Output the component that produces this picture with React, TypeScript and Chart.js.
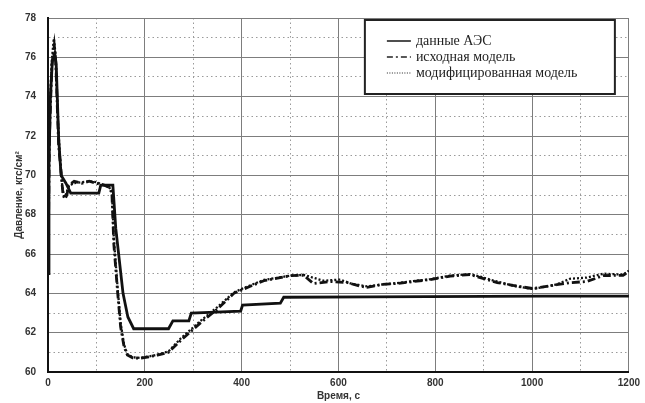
import { useEffect, useRef } from "react";
import { Chart, registerables } from "chart.js";

Chart.register(...registerables);

// ---- data ----
const seriesNames = ["данные АЭС", "исходная модель", "модифицированная модель"];

const aesTime = [0, 2, 5, 9, 14, 17, 22, 27, 37, 47, 105, 109, 134, 140, 155, 165, 177, 249, 258, 291, 296, 398, 402, 480, 487, 666, 1023, 1200];
const aesPressure = [65.0, 70.5, 74.0, 75.8, 76.2, 75.6, 71.9, 70.0, 69.6, 69.1, 69.1, 69.5, 69.5, 67.3, 64.0, 62.8, 62.2, 62.2, 62.6, 62.6, 63.0, 63.1, 63.4, 63.5, 63.8, 63.82, 63.86, 63.86];

const origTime = [0, 3, 8, 13, 16, 22, 27, 31, 35, 39, 43, 54, 70, 85, 100, 116, 126, 132, 136, 144, 150, 157, 164, 175, 190, 210, 226, 249, 274, 315, 350, 384, 412, 446, 501, 528, 548, 583, 618, 639, 659, 690, 721, 755, 790, 831, 872, 893, 928, 961, 1002, 1051, 1078, 1113, 1147, 1188, 1200];
const origPressure = [65.0, 72.0, 75.6, 76.6, 75.8, 71.5, 70.2, 69.0, 68.8, 69.0, 69.5, 69.7, 69.6, 69.7, 69.6, 69.5, 69.4, 69.1, 66.5, 64.0, 62.3, 61.3, 60.86, 60.72, 60.7, 60.78, 60.86, 61.0, 61.6, 62.5, 63.2, 64.0, 64.3, 64.64, 64.9, 64.92, 64.5, 64.6, 64.55, 64.4, 64.3, 64.45, 64.5, 64.6, 64.7, 64.88, 64.95, 64.8, 64.55, 64.4, 64.24, 64.44, 64.54, 64.6, 64.9, 64.92, 65.1];

const modTime = [0, 3, 8, 12, 15, 21, 26, 30, 34, 38, 42, 52, 70, 85, 100, 116, 126, 132, 136, 144, 150, 157, 164, 175, 190, 210, 226, 249, 274, 315, 350, 384, 412, 446, 501, 528, 569, 604, 625, 659, 690, 721, 755, 790, 831, 872, 893, 913, 961, 1002, 1051, 1078, 1113, 1147, 1188, 1200];
const modPressure = [65.0, 73.0, 75.9, 76.95, 76.3, 72.5, 70.4, 69.3, 68.9, 69.1, 69.4, 69.6, 69.65, 69.7, 69.65, 69.5, 69.4, 69.2, 66.8, 64.2, 62.5, 61.4, 60.9, 60.75, 60.72, 60.8, 60.88, 61.05, 61.7, 62.6, 63.3, 64.05, 64.35, 64.68, 64.9, 64.94, 64.64, 64.7, 64.5, 64.35, 64.45, 64.52, 64.62, 64.72, 64.9, 64.98, 64.85, 64.7, 64.38, 64.22, 64.45, 64.74, 64.8, 65.0, 64.95, 65.15];

const xMin = 0, xMax = 1200, xMinorStep = 100, xMajorStep = 200;
const yMin = 60, yMax = 78, yMinorStep = 1, yMajorStep = 2;

const toPoints = (t: number[], v: number[]) => t.map((x, i) => ({ x, y: v[i] }));

const boxLegend = {
  id: "boxLegend",
  afterDraw(chart: any) {
    const ctx = chart.ctx as CanvasRenderingContext2D;
    const area = chart.chartArea;
    const x0 = area.right - 264;
    const y0 = area.top + 2;
    const w = 250;
    const h = 74;
    ctx.save();
    ctx.fillStyle = "#ffffff";
    ctx.fillRect(x0, y0, w, h);
    ctx.lineWidth = 2;
    ctx.strokeStyle = "#222";
    ctx.setLineDash([]);
    ctx.strokeRect(x0, y0, w, h);
    chart.data.datasets.forEach((ds: any, i: number) => {
      const y = y0 + 21 + i * 16;
      ctx.beginPath();
      ctx.lineWidth = i === 2 ? 1.2 : 1.6;
      ctx.strokeStyle = "#222";
      ctx.setLineDash(i === 0 ? [] : i === 1 ? [6, 3, 2, 3] : [1, 1.5]);
      ctx.moveTo(x0 + 22, y);
      ctx.lineTo(x0 + 46, y);
      ctx.stroke();
      ctx.setLineDash([]);
      ctx.fillStyle = "#222";
      ctx.font = "14px 'Liberation Serif'";
      ctx.textBaseline = "middle";
      ctx.textAlign = "left";
      ctx.fillText(ds.label, x0 + 51, y);
    });
    ctx.restore();
  },
};

export default function App() {
  const ref = useRef<HTMLCanvasElement | null>(null);
  useEffect(() => {
    if (!ref.current) return;
    const tickFont = { family: "'Liberation Sans'", size: 10, weight: "bold" as const };
    const chart = new Chart(ref.current, {
      type: "line",
      data: {
        datasets: [
          {
            label: seriesNames[0],
            data: toPoints(aesTime, aesPressure),
            borderColor: "#111",
            borderWidth: 2.8,
            pointRadius: 0,
            tension: 0,
          },
          {
            label: seriesNames[1],
            data: toPoints(origTime, origPressure),
            borderColor: "#111",
            borderWidth: 2.8,
            borderDash: [8, 3, 2, 3],
            pointRadius: 0,
            tension: 0,
          },
          {
            label: seriesNames[2],
            data: toPoints(modTime, modPressure),
            borderColor: "#111",
            borderWidth: 2.3,
            borderDash: [2, 2],
            pointRadius: 0,
            tension: 0,
          },
        ],
      },
      options: {
        responsive: false,
        animation: false,
        devicePixelRatio: 1,
        layout: { padding: { top: 15, right: 16, left: 0, bottom: 0 } },
        plugins: { legend: { display: false }, tooltip: { enabled: false } },
        scales: {
          x: {
            type: "linear",
            min: xMin,
            max: xMax,
            afterFit: (s: any) => { s.height = 31; },
            ticks: {
              stepSize: xMinorStep,
              autoSkip: false,
              maxRotation: 0,
              padding: 5,
              color: "#333",
              font: tickFont,
              callback: (v: any) => (Number(v) % xMajorStep === 0 ? String(v) : ""),
            },
            grid: {
              drawTicks: false,
              lineWidth: 1,
              color: (c: any) => (c.tick && c.tick.value % xMajorStep === 0 ? "#7d7d7d" : "#9a9a9a"),
            },
            border: {
              color: "#111",
              width: 2,
              dash: (c: any) => (c.tick && c.tick.value % xMajorStep !== 0 ? [1.5, 3] : []),
            } as any,
            title: {
              display: true,
              text: "Время, с",
              color: "#333",
              font: tickFont,
              padding: { top: 0, bottom: 1 },
            },
          },
          y: {
            type: "linear",
            min: yMin,
            max: yMax,
            afterFit: (s: any) => { s.width = 48; },
            ticks: {
              stepSize: yMinorStep,
              autoSkip: false,
              padding: 12,
              color: "#333",
              font: tickFont,
              callback: (v: any) => (Number(v) % yMajorStep === 0 ? String(v) : ""),
            },
            grid: {
              drawTicks: false,
              lineWidth: 1,
              color: (c: any) => (c.tick && c.tick.value % yMajorStep === 0 ? "#7d7d7d" : "#9a9a9a"),
            },
            border: {
              color: "#111",
              width: 2,
              dash: (c: any) => (c.tick && c.tick.value % yMajorStep !== 0 ? [1.5, 3] : []),
            } as any,
            title: {
              display: true,
              text: "Давление, кгс/см²",
              color: "#333",
              font: tickFont,
              padding: { top: 13, bottom: 0 },
            },
          },
        },
      },
      plugins: [boxLegend],
    });
    return () => chart.destroy();
  }, []);
  return (
    <div style={{ position: "absolute", left: 0, top: 0, width: 645, height: 403, background: "#fff" }}>
      <canvas ref={ref} width={645} height={403} style={{ display: "block" }} />
    </div>
  );
}
